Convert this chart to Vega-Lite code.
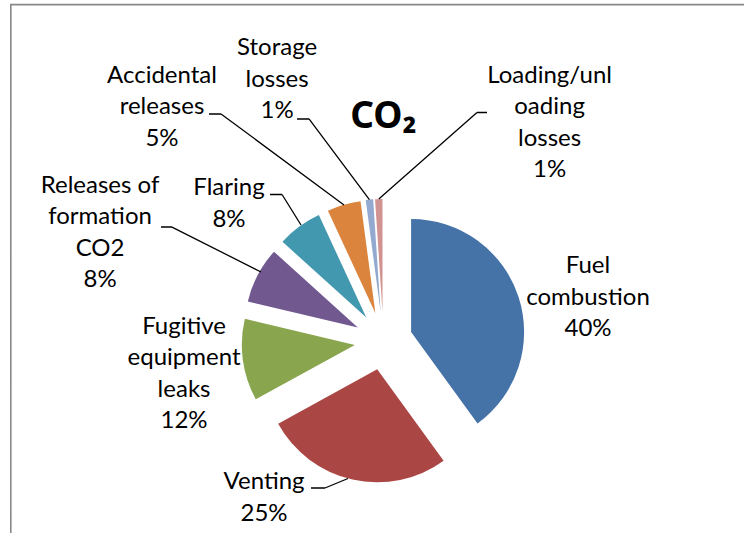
{
  "$schema": "https://vega.github.io/schema/vega-lite/v6.json",
  "width": 733,
  "height": 528,
  "autosize": "none",
  "padding": {"left": 11, "top": 5, "right": 0, "bottom": 0},
  "background": "white",
  "config": {"view": {"stroke": null}},
  "title": {"text": "CO₂", "font": "Noto Sans", "fontSize": 37, "fontWeight": "bold", "color": "black", "anchor": "middle", "frame": "group", "baseline": "alphabetic", "offset": -164, "dx": 6},
  "data": {"values": [
    {"cat": "Fuel combustion", "pct": 40, "label": "Fuel\ncombustion\n40%", "rank": 1},
    {"cat": "Venting", "pct": 27, "label": "Venting\n25%", "rank": 2},
    {"cat": "Fugitive equipment leaks", "pct": 11.7, "label": "Fugitive\nequipment\nleaks\n12%", "rank": 3},
    {"cat": "Releases of formation CO2", "pct": 8, "label": "Releases of\nformation\nCO2\n8%", "rank": 4},
    {"cat": "Flaring", "pct": 6.4, "label": "Flaring\n8%", "rank": 5},
    {"cat": "Accidental releases", "pct": 4.8, "label": "Accidental\nreleases\n5%", "rank": 6},
    {"cat": "Storage losses", "pct": 1.05, "label": "Storage\nlosses\n1%", "rank": 7},
    {"cat": "Loading/unloading losses", "pct": 1.05, "label": "Loading/unl\noading\nlosses\n1%", "rank": 8}
  ]},
  "layer": [
    {
      "data": {"values": [{"part": "chart frame"}]},
      "layer": [
        {"mark": {"type": "arc", "theta": 3.1416, "theta2": 3.1416, "radius": 540, "radius2": 0, "xOffset": -366.7, "yOffset": -265.1, "filled": false, "color": "#888888", "strokeWidth": 1.6}, "encoding": {}},
        {"mark": {"type": "arc", "theta": 1.5708, "theta2": 1.5708, "radius": 740, "radius2": 0, "xOffset": -367.5, "yOffset": -264.4, "filled": false, "color": "#888888", "strokeWidth": 1.6}, "encoding": {}}
      ]
    },
    {
      "encoding": {
        "theta": {"field": "pct", "type": "quantitative", "stack": true},
        "order": {"field": "rank", "type": "quantitative"}
      },
      "layer": [
        {"mark": {"type": "arc", "radius": 113, "xOffset": 33.6, "yOffset": 63.0},
         "encoding": {"color": {"field": "cat", "type": "nominal", "legend": null, "scale": {"domain": ["Fuel combustion", "Venting", "Fugitive equipment leaks", "Releases of formation CO2", "Flaring", "Accidental releases", "Storage losses", "Loading/unloading losses"], "range": ["#4572A7", "#AA4643", "#89A54E", "#71588F", "#4198AF", "#DB843D", "#93A9CF", "#D19392"]}},
                      "opacity": {"condition": {"test": "datum.cat === 'Fuel combustion'", "value": 1}, "value": 0}}},
        {"mark": {"type": "arc", "radius": 113, "xOffset": -0.3, "yOffset": 100.3},
         "encoding": {"color": {"field": "cat", "type": "nominal", "legend": null},
                      "opacity": {"condition": {"test": "datum.cat === 'Venting'", "value": 1}, "value": 0}}},
        {"mark": {"type": "arc", "radius": 113, "xOffset": -22.7, "yOffset": 75.9},
         "encoding": {"color": {"field": "cat", "type": "nominal", "legend": null},
                      "opacity": {"condition": {"test": "datum.cat === 'Fugitive equipment leaks'", "value": 1}, "value": 0}}},
        {"mark": {"type": "arc", "radius": 113, "xOffset": -19.7, "yOffset": 58.5},
         "encoding": {"color": {"field": "cat", "type": "nominal", "legend": null},
                      "opacity": {"condition": {"test": "datum.cat === 'Releases of formation CO2'", "value": 1}, "value": 0}}},
        {"mark": {"type": "arc", "radius": 113, "xOffset": -11.2, "yOffset": 48.6},
         "encoding": {"color": {"field": "cat", "type": "nominal", "legend": null},
                      "opacity": {"condition": {"test": "datum.cat === 'Flaring'", "value": 1}, "value": 0}}},
        {"mark": {"type": "arc", "radius": 113, "xOffset": -2.1, "yOffset": 44.2},
         "encoding": {"color": {"field": "cat", "type": "nominal", "legend": null},
                      "opacity": {"condition": {"test": "datum.cat === 'Accidental releases'", "value": 1}, "value": 0}}},
        {"mark": {"type": "arc", "radius": 113, "xOffset": 3.1, "yOffset": 43.1},
         "encoding": {"color": {"field": "cat", "type": "nominal", "legend": null},
                      "opacity": {"condition": {"test": "datum.cat === 'Storage losses'", "value": 1}, "value": 0}}},
        {"mark": {"type": "arc", "radius": 113, "xOffset": 5.0, "yOffset": 43.0},
         "encoding": {"color": {"field": "cat", "type": "nominal", "legend": null},
                      "opacity": {"condition": {"test": "datum.cat === 'Loading/unloading losses'", "value": 1}, "value": 0}}},
        {"mark": {"type": "text", "radius": 180, "dx": 39.3, "dy": 53.1, "font": "Lato", "fontSize": 24, "lineBreak": "\n", "lineHeight": 31.5, "align": "center", "baseline": "middle", "color": "black"},
         "encoding": {"text": {"condition": {"test": "datum.cat === 'Fuel combustion'", "field": "label"}, "value": ""}}},
        {"mark": {"type": "text", "radius": 180, "dx": -74.2, "dy": 37.5, "font": "Lato", "fontSize": 24, "lineBreak": "\n", "lineHeight": 31.5, "align": "center", "baseline": "middle", "color": "black"},
         "encoding": {"text": {"condition": {"test": "datum.cat === 'Venting'", "field": "label"}, "value": ""}}},
        {"mark": {"type": "text", "radius": 180, "dx": -15.1, "dy": 33.4, "font": "Lato", "fontSize": 24, "lineBreak": "\n", "lineHeight": 31.5, "align": "center", "baseline": "middle", "color": "black"},
         "encoding": {"text": {"condition": {"test": "datum.cat === 'Fugitive equipment leaks'", "field": "label"}, "value": ""}}},
        {"mark": {"type": "text", "radius": 180, "dx": -118.1, "dy": 0.4, "font": "Lato", "fontSize": 24, "lineBreak": "\n", "lineHeight": 31.5, "align": "center", "baseline": "middle", "color": "black"},
         "encoding": {"text": {"condition": {"test": "datum.cat === 'Releases of formation CO2'", "field": "label"}, "value": ""}}},
        {"mark": {"type": "text", "radius": 180, "dx": -41.8, "dy": 64.2, "font": "Lato", "fontSize": 24, "lineBreak": "\n", "lineHeight": 31.5, "align": "center", "baseline": "middle", "color": "black"},
         "encoding": {"text": {"condition": {"test": "datum.cat === 'Flaring'", "field": "label"}, "value": ""}}},
        {"mark": {"type": "text", "radius": 180, "dx": -165.3, "dy": -20.6, "font": "Lato", "fontSize": 24, "lineBreak": "\n", "lineHeight": 31.5, "align": "center", "baseline": "middle", "color": "black"},
         "encoding": {"text": {"condition": {"test": "datum.cat === 'Accidental releases'", "field": "label"}, "value": ""}}},
        {"mark": {"type": "text", "radius": 180, "dx": -82.6, "dy": -41.4, "font": "Lato", "fontSize": 24, "lineBreak": "\n", "lineHeight": 31.5, "align": "center", "baseline": "middle", "color": "black"},
         "encoding": {"text": {"condition": {"test": "datum.cat === 'Storage losses'", "field": "label"}, "value": ""}}},
        {"mark": {"type": "text", "radius": 180, "dx": 178, "dy": -13.3, "font": "Lato", "fontSize": 24, "lineBreak": "\n", "lineHeight": 31.5, "align": "center", "baseline": "middle", "color": "black"},
         "encoding": {"text": {"condition": {"test": "datum.cat === 'Loading/unloading losses'", "field": "label"}, "value": ""}}}
      ]
    },
    {"transform": [{"filter": "datum.cat === 'Storage losses'"}], "mark": {"type": "arc", "theta": 5.641, "theta2": 5.641, "radius": 100.8, "radius2": 0, "xOffset": -8.1, "yOffset": -69.3, "filled": false, "color": "black", "strokeWidth": 1.3}, "encoding": {}},
    {"transform": [{"filter": "datum.cat === 'Storage losses'"}], "mark": {"type": "arc", "theta": 4.712, "theta2": 4.712, "radius": 12, "radius2": 0, "xOffset": -68.5, "yOffset": -150, "filled": false, "color": "black", "strokeWidth": 1.3}, "encoding": {}},
    {"transform": [{"filter": "datum.cat === 'Loading/unloading losses'"}], "mark": {"type": "arc", "theta": 0.848, "theta2": 0.848, "radius": 130.9, "radius2": 0, "xOffset": 1.3, "yOffset": -69.9, "filled": false, "color": "black", "strokeWidth": 1.3}, "encoding": {}},
    {"transform": [{"filter": "datum.cat === 'Loading/unloading losses'"}], "mark": {"type": "arc", "theta": 1.5708, "theta2": 1.5708, "radius": 10, "radius2": 0, "xOffset": 99.5, "yOffset": -156.5, "filled": false, "color": "black", "strokeWidth": 1.3}, "encoding": {}},
    {"transform": [{"filter": "datum.cat === 'Accidental releases'"}], "mark": {"type": "arc", "theta": 5.350, "theta2": 5.350, "radius": 153, "radius2": 0, "xOffset": -33.5, "yOffset": -64, "filled": false, "color": "black", "strokeWidth": 1.3}, "encoding": {}},
    {"transform": [{"filter": "datum.cat === 'Accidental releases'"}], "mark": {"type": "arc", "theta": 4.712, "theta2": 4.712, "radius": 12, "radius2": 0, "xOffset": -156.5, "yOffset": -155, "filled": false, "color": "black", "strokeWidth": 1.3}, "encoding": {}},
    {"transform": [{"filter": "datum.cat === 'Flaring'"}], "mark": {"type": "arc", "theta": 5.727, "theta2": 5.727, "radius": 35.9, "radius2": 0, "xOffset": -76.5, "yOffset": -44, "filled": false, "color": "black", "strokeWidth": 1.3}, "encoding": {}},
    {"transform": [{"filter": "datum.cat === 'Flaring'"}], "mark": {"type": "arc", "theta": 4.712, "theta2": 4.712, "radius": 12, "radius2": 0, "xOffset": -95.5, "yOffset": -74.5, "filled": false, "color": "black", "strokeWidth": 1.3}, "encoding": {}},
    {"transform": [{"filter": "datum.cat === 'Releases of formation CO2'"}], "mark": {"type": "arc", "theta": 5.180, "theta2": 5.180, "radius": 99.7, "radius2": 0, "xOffset": -116.5, "yOffset": 3, "filled": false, "color": "black", "strokeWidth": 1.3}, "encoding": {}},
    {"transform": [{"filter": "datum.cat === 'Releases of formation CO2'"}], "mark": {"type": "arc", "theta": 4.712, "theta2": 4.712, "radius": 11, "radius2": 0, "xOffset": -205.5, "yOffset": -42, "filled": false, "color": "black", "strokeWidth": 1.3}, "encoding": {}},
    {"transform": [{"filter": "datum.cat === 'Venting'"}], "mark": {"type": "arc", "theta": 4.321, "theta2": 4.321, "radius": 24.9, "radius2": 0, "xOffset": -29.5, "yOffset": 209.5, "filled": false, "color": "black", "strokeWidth": 1.3}, "encoding": {}},
    {"transform": [{"filter": "datum.cat === 'Venting'"}], "mark": {"type": "arc", "theta": 4.712, "theta2": 4.712, "radius": 14, "radius2": 0, "xOffset": -52.5, "yOffset": 219, "filled": false, "color": "black", "strokeWidth": 1.3}, "encoding": {}}
  ]
}
